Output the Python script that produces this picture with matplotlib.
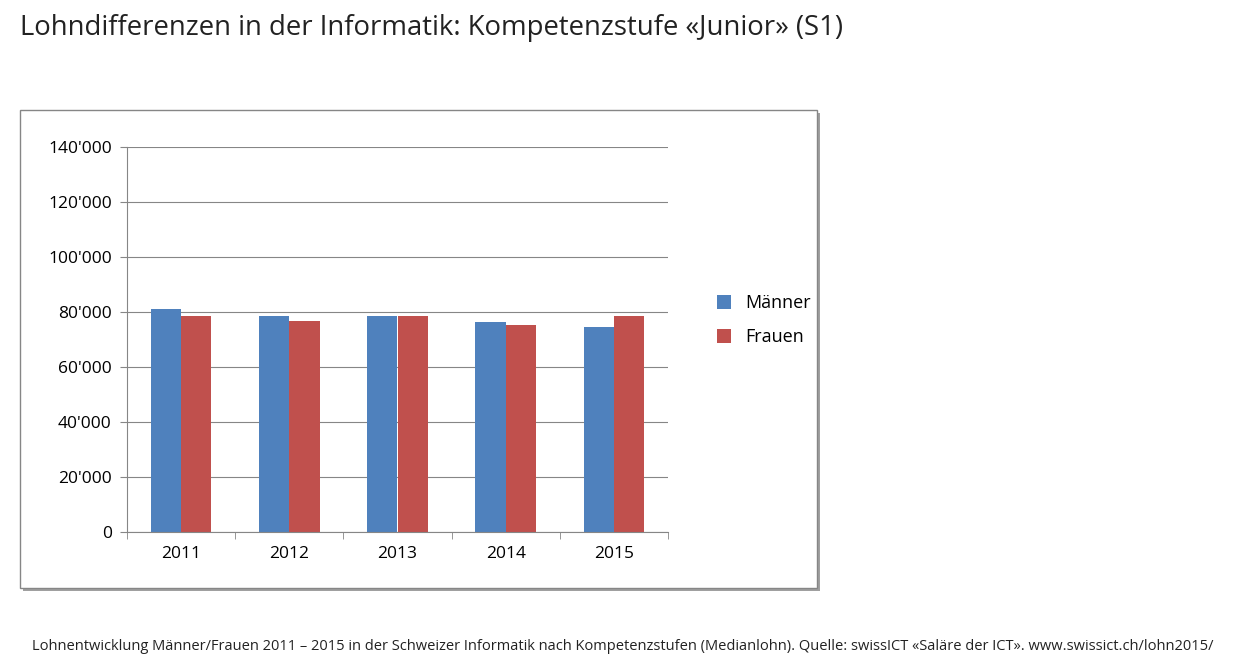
import matplotlib.pyplot as plt
import numpy as np
from matplotlib.patches import Rectangle

jahre = ['2011', '2012', '2013', '2014', '2015']
maenner = [81000, 78500, 78500, 76300, 74500]
frauen = [78500, 76900, 78500, 75300, 78500]
yticks = [0, 20000, 40000, 60000, 80000, 100000, 120000, 140000]
ylabels = ["0", "20'000", "40'000", "60'000", "80'000", "100'000", "120'000", "140'000"]

plt.rcParams['font.family'] = 'Open Sans'
W, H = 1252, 666
fig = plt.figure(figsize=(W / 100, H / 100), dpi=100)

# Titel und Fussnote
fig.text(20 / W, 1 - 28 / H, 'Lohndifferenzen in der Informatik: Kompetenzstufe «Junior» (S1)',
         fontsize=19.8, color='#222222', va='center')
fig.text(32 / W, 1 - 646 / H,
         'Lohnentwicklung Männer/Frauen 2011 – 2015 in der Schweizer Informatik nach Kompetenzstufen (Medianlohn). '
         'Quelle: swissICT «Saläre der ICT». www.swissict.ch/lohn2015/',
         fontsize=10.5, color='#222222', va='center')

# Rahmen mit Schatten
fig.patches.append(Rectangle((23 / W, 1 - 591 / H), 797 / W, 478 / H, transform=fig.transFigure,
                             facecolor='#a0a0a0', edgecolor='none', zorder=-2))
fig.patches.append(Rectangle((20 / W, 1 - 588 / H), 797 / W, 478 / H, transform=fig.transFigure,
                             facecolor='white', edgecolor='#868686', lw=1, zorder=-1))

ax = fig.add_axes([127 / W, 1 - 532 / H, 541 / W, 385 / H])
ax.set_zorder(2)
ax.patch.set_alpha(0)
x = np.arange(len(jahre))
w = 0.28
ax.bar(x - w / 2, maenner, w, color='#4f81bd', label='Männer', zorder=2)
ax.bar(x + w / 2, frauen, w, color='#c0504d', label='Frauen', zorder=2)
ax.set_xlim(-0.5, 4.5)
ax.set_ylim(0, 140000)
ax.set_yticks(yticks)
ax.set_yticklabels(ylabels, fontsize=12.5)
ax.set_xticks(x)
ax.set_xticklabels(jahre, fontsize=12.5)
ax.set_xticks(np.arange(-0.5, 5, 1), minor=True)
ax.tick_params(axis='x', which='major', length=0, pad=10)
ax.tick_params(axis='x', which='minor', length=5, color='#868686')
ax.tick_params(axis='y', length=5, color='#868686', pad=6)
ax.grid(axis='y', color='#868686', lw=0.8, zorder=0)
for s in ['top', 'right']:
    ax.spines[s].set_visible(False)
for s in ['left', 'bottom']:
    ax.spines[s].set_color('#868686')
ax.legend(loc='center left', bbox_to_anchor=(1.06, 0.55),
          frameon=False, fontsize=13, handlelength=0.8, handleheight=0.8, labelspacing=0.9)

fig.savefig('out.png', dpi=100)
